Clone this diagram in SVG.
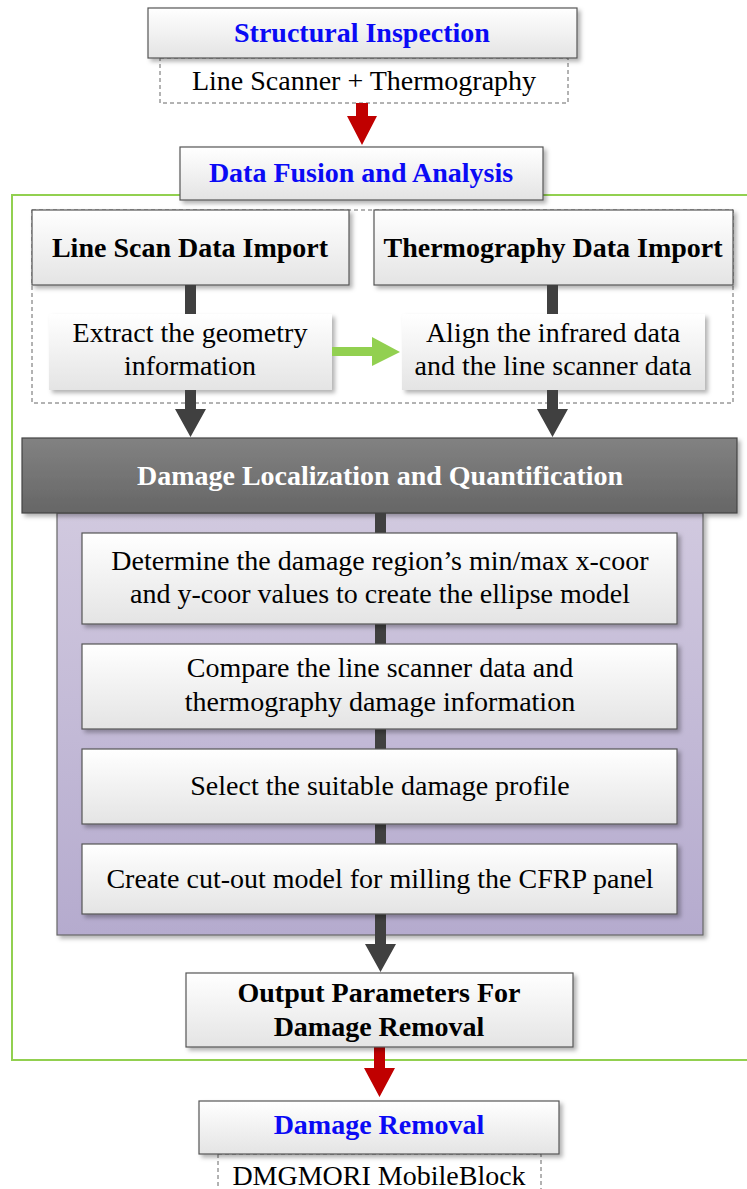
<svg xmlns="http://www.w3.org/2000/svg" width="747" height="1189" viewBox="0 0 747 1189">
<defs>
<linearGradient id="gBox" x1="0" y1="0" x2="0" y2="1"><stop offset="0" stop-color="#ffffff"/><stop offset="1" stop-color="#e4e4e4"/></linearGradient>
<linearGradient id="gDark" x1="0" y1="0" x2="0" y2="1"><stop offset="0" stop-color="#828282"/><stop offset="1" stop-color="#666666"/></linearGradient>
<linearGradient id="gPurple" x1="0" y1="0" x2="0" y2="1"><stop offset="0" stop-color="#d1c9df"/><stop offset="1" stop-color="#b5abce"/></linearGradient>
<filter id="sh" x="-10%" y="-10%" width="125%" height="140%"><feDropShadow dx="3" dy="3" stdDeviation="2" flood-color="#000" flood-opacity="0.3"/></filter>
<style>
.box{fill:url(#gBox);stroke:#555;stroke-width:1.2;filter:url(#sh)}
.soft{fill:url(#gBox);stroke:none;filter:url(#sh)}
.dash{fill:#fff;stroke:#666;stroke-width:1;stroke-dasharray:4 3}
.dashn{fill:none;stroke:#666;stroke-width:1;stroke-dasharray:4 3}
.t{font-family:"Liberation Serif","Times New Roman",serif;font-size:28px;text-anchor:middle;fill:#000}
.b{font-weight:bold}
.blue{fill:#0a0af5}
.w{fill:#fff}
.dk{fill:#404040}
.red{fill:#c00000}
.grn{fill:#92d050}
</style>
</defs>
<rect x="12" y="195" width="745" height="865" fill="none" stroke="#92d050" stroke-width="2"/>
<rect class="dashn" x="32" y="210" width="701" height="193"/>

<g id="n-structural">
<rect class="dash" x="160" y="58" width="408" height="45"/>
<rect class="box" x="148" y="8" width="429" height="50"/>
<text class="t b blue" x="362" y="42">Structural Inspection</text>
<text class="t" x="364" y="90">Line Scanner + Thermography</text>
</g>

<g id="n-fusion">
<rect class="box" x="180" y="147" width="363" height="53"/>
<text class="t b blue" x="361" y="182">Data Fusion and Analysis</text>
</g>

<g id="n-linescan">
<rect class="box" x="32" y="210" width="317" height="75"/>
<text class="t b" x="190" y="257">Line Scan Data Import</text>
</g>

<g id="n-thermo">
<rect class="box" x="374" y="210" width="359" height="75"/>
<text class="t b" x="553" y="257">Thermography Data Import</text>
</g>

<g id="n-extract">
<rect class="soft" x="49" y="314" width="283" height="76"/>
<text class="t" x="190" y="342">Extract the geometry</text>
<text class="t" x="190" y="375">information</text>
</g>

<g id="n-align">
<rect class="soft" x="402" y="314" width="303" height="76"/>
<text class="t" x="553" y="342">Align the infrared data</text>
<text class="t" x="553" y="375">and the line scanner data</text>
</g>

<g id="n-purple">
<rect x="57" y="513" width="646" height="422" fill="url(#gPurple)" stroke="#666" stroke-width="1.2" filter="url(#sh)"/>
</g>

<g id="n-damageloc">
<rect x="22" y="438" width="715" height="75" fill="url(#gDark)" stroke="#444" stroke-width="1.2" filter="url(#sh)"/>
<text class="t b w" x="380" y="485">Damage Localization and Quantification</text>
</g>

<g id="connectors">
<rect class="dk" x="185" y="285" width="11" height="29"/>
<rect class="dk" x="547" y="285" width="11" height="29"/>
<path class="grn" d="M332 347 H372 V337 L400 352 L372 366 V356 H332 Z"/>
<path class="dk" d="M185 390 H196 V409 H206 L190.5 437 L175 409 H185 Z"/>
<path class="dk" d="M547 390 H558 V409 H568 L552.5 437 L537 409 H547 Z"/>
<rect class="dk" x="375" y="513" width="11" height="20"/>
<rect class="dk" x="375" y="624" width="11" height="20"/>
<rect class="dk" x="375" y="729" width="11" height="20"/>
<rect class="dk" x="375" y="824" width="11" height="20"/>
<path class="dk" d="M375 914 H386 V944 H396 L380.5 972 L365 944 H375 Z"/>
<path class="red" d="M356 103 H368 V116 H377 L362 145 L347 116 H356 Z"/>
<path class="red" d="M374 1047 H385 V1068 H395 L379.5 1097 L364 1068 H374 Z"/>
</g>

<g id="n-ellipse">
<rect class="box" x="82" y="533" width="595" height="91"/>
<text class="t" x="380" y="570">Determine the damage region’s min/max x-coor</text>
<text class="t" x="380" y="603">and y-coor values to create the ellipse model</text>
</g>

<g id="n-compare">
<rect class="box" x="82" y="644" width="595" height="85"/>
<text class="t" x="380" y="677">Compare the line scanner data and</text>
<text class="t" x="380" y="711">thermography damage information</text>
</g>

<g id="n-select">
<rect class="box" x="82" y="749" width="595" height="75"/>
<text class="t" x="380" y="795">Select the suitable damage profile</text>
</g>

<g id="n-cutout">
<rect class="box" x="82" y="844" width="595" height="70"/>
<text class="t" x="380" y="888">Create cut-out model for milling the CFRP panel</text>
</g>

<g id="n-output">
<rect class="box" x="186" y="973" width="387" height="74"/>
<text class="t b" x="379" y="1002">Output Parameters For</text>
<text class="t b" x="379" y="1036">Damage Removal</text>
</g>

<g id="n-removal">
<rect class="dash" x="218" y="1154" width="323" height="50"/>
<rect class="box" x="199" y="1101" width="360" height="53"/>
<text class="t b blue" x="379" y="1134">Damage Removal</text>
<text class="t" x="379" y="1185">DMGMORI MobileBlock</text>
</g>
</svg>
